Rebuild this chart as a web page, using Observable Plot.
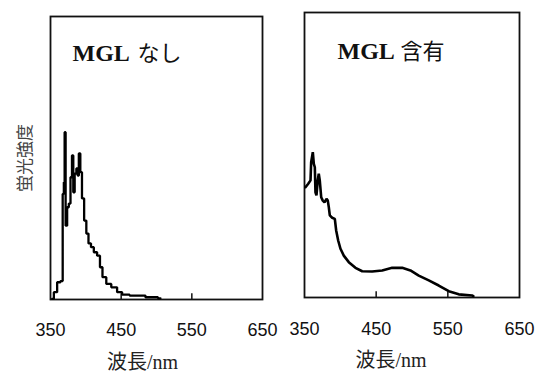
<!DOCTYPE html>
<html><head><meta charset="utf-8">
<script src="https://cdn.jsdelivr.net/npm/d3@7"></script>
<script src="https://cdn.jsdelivr.net/npm/@observablehq/plot@0.6"></script>
<style>
html,body{margin:0;padding:0;background:#fff;}
#chart{position:relative;width:536px;height:374px;overflow:hidden;background:#fff;}
#chart svg{position:absolute;top:0;background:transparent;}
</style></head><body><div id="chart"></div>
<script>
// Panel titles and axis texts
const panelTitleLatin = ["MGL", "MGL"];
const panelTitleJa = ["なし", "含有"];
const xAxisTitle = "波長/nm";
const yAxisTitle = "蛍光強度";
const tickLabels = [350, 450, 550, 650];
const innerTicks = [450, 550];

// Spectrum without MGL (wavelength nm, relative intensity)
const noneWavelength = [352.4, 357.1, 361.7, 366.5, 368.0, 369.8, 370.2, 372.6, 374.5, 377.3, 379.3, 381.5, 383.0, 385.4, 387.8, 389.2, 391.0, 393.4, 395.7, 399.5, 401.9, 405.6, 409.0, 413.6, 418.3, 421.7, 425.4, 432.5, 439.5, 449.0, 453.7, 470.2, 498.5, 505.6];
const noneIntensity  = [0.2, 2.6, 6.1, 6.5, 37.3, 41.4, 59.1, 26.1, 32.6, 33.9, 43.2, 50.9, 37.9, 44.5, 46.3, 43.8, 51.6, 45.0, 35.7, 27.9, 23.3, 19.8, 18.5, 16.7, 15.5, 11.4, 7.9, 5.5, 4.3, 2.6, 1.7, 1.4, 0.8, 0.4];

// Spectrum with MGL
const withWavelength = [351.4, 355.2, 358.4, 359.3, 361.6, 363.0, 364.4, 365.3, 366.7, 368.5, 369.9, 371.3, 373.3, 375.5, 377.9, 380.7, 382.5, 383.9, 385.3, 388.6, 392.3, 394.2, 397.0, 400.2, 404.8, 411.8, 421.1, 430.5, 444.4, 458.4, 472.3, 486.3, 497.8, 509.4, 523.4, 537.3, 551.3, 565.2, 583.9, 585.7];
const withIntensity  = [38.7, 39.9, 41.1, 47.5, 51.0, 46.9, 45.7, 36.9, 35.8, 41.1, 43.4, 41.1, 35.2, 34.0, 33.4, 34.6, 34.0, 31.7, 28.8, 28.0, 27.6, 23.5, 20.0, 17.1, 14.7, 12.4, 10.4, 9.2, 9.1, 9.5, 10.4, 10.4, 9.5, 7.7, 6.0, 4.2, 2.2, 1.1, 0.7, 0.5];

const noneData = noneWavelength.map((x, i) => ({x, y: noneIntensity[i]}));
const withData = withWavelength.map((x, i) => ({x, y: withIntensity[i]}));

const sans = "'Liberation Sans', Arial, sans-serif";
const serif = "'Liberation Serif', 'Noto Sans CJK JP', serif";
const ja = "'Noto Sans CJK JP', sans-serif";

function panel(opts) {
  const marks = [
    Plot.frame({stroke: "#111", strokeWidth: 1.8}),
    Plot.ruleX(innerTicks, {y1: 0, y2: 2, stroke: "#111", strokeWidth: 1.5}),
    Plot.text(tickLabels, {x: d => d, frameAnchor: "bottom", lineAnchor: "middle", dy: opts.ldy, fontSize: 18, fontFamily: sans, fill: "#111"}),
    Plot.line(opts.data, {x: "x", y: "y", stroke: "#000", strokeWidth: opts.sw, curve: opts.curve, strokeLinejoin: "miter"}),
    Plot.text([opts.latin], {frameAnchor: "top-left", textAnchor: "start", lineAnchor: "bottom", dx: opts.tdx, dy: opts.tdy, fontSize: 24, fontWeight: "bold", fontFamily: serif, fill: "#111"}),
    Plot.text([opts.ja], {frameAnchor: "top-left", textAnchor: "start", lineAnchor: "bottom", dx: opts.jdx, dy: opts.tdy, fontSize: 22, fontFamily: ja, fill: "#111"}),
    Plot.text([xAxisTitle], {frameAnchor: "bottom", textAnchor: "middle", lineAnchor: "bottom", dx: opts.xdx, dy: opts.xdy, fontSize: 20, fontFamily: serif, fill: "#222"})
  ];
  if (opts.ylabel) {
    marks.push(Plot.text([yAxisTitle], {frameAnchor: "left", rotate: -90, textAnchor: "middle", lineAnchor: "middle", dx: -25, fontSize: 17, fontFamily: ja, fill: "#444"}));
  }
  return Plot.plot({
    width: opts.width, height: 374,
    marginLeft: opts.ml, marginRight: opts.mr, marginTop: opts.mt, marginBottom: opts.mb,
    x: {domain: [350, 650], axis: null},
    y: {domain: [0, 100], axis: null},
    style: {background: "transparent", overflow: "visible"},
    marks
  });
}

const left = panel({data: noneData, width: 285, ml: 50, mr: 23, mt: 16, mb: 75, sw: 2.3, curve: "step", ldy: 31,
  latin: panelTitleLatin[0], ja: panelTitleJa[0], tdx: 22, tdy: 44, jdx: 87, xdx: -14, xdy: 69, ylabel: true});
const right = panel({data: withData, width: 251, ml: 19, mr: 17, mt: 12, mb: 77, sw: 2.6, curve: "linear", ldy: 32,
  latin: panelTitleLatin[1], ja: panelTitleJa[1], tdx: 33, tdy: 46, jdx: 96, xdx: -21, xdy: 69, ylabel: false});
left.style.left = "0px";
right.style.left = "285px";
const chart = document.getElementById("chart");
chart.appendChild(left);
chart.appendChild(right);
</script>
</body></html>
